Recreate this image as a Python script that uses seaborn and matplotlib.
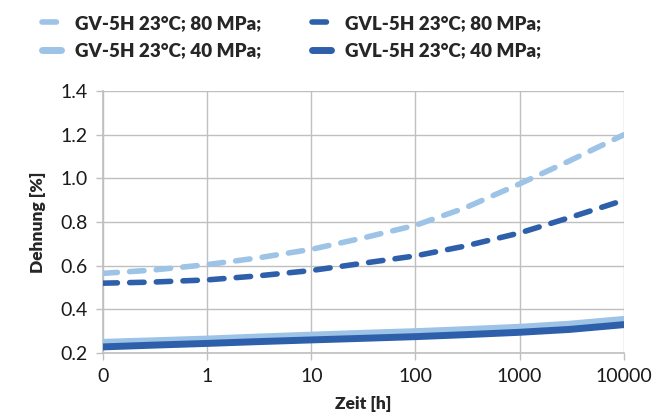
import numpy as np
import pandas as pd
import matplotlib
matplotlib.use("Agg")
import matplotlib.pyplot as plt
import seaborn as sns

# ---- data ----
zeit_h = [0, 0.3, 1, 3, 10, 30, 100, 300, 1000, 3000, 10000]
gv_80 = [0.565, 0.580, 0.605, 0.635, 0.675, 0.725, 0.785, 0.865, 0.975, 1.080, 1.200]
gvl_80 = [0.520, 0.525, 0.535, 0.553, 0.578, 0.610, 0.645, 0.690, 0.750, 0.820, 0.900]
gv_40 = [0.249, 0.256, 0.264, 0.273, 0.282, 0.290, 0.298, 0.307, 0.318, 0.332, 0.354]
gvl_40 = [0.228, 0.236, 0.244, 0.252, 0.260, 0.267, 0.275, 0.284, 0.295, 0.308, 0.330]
series_names = ["GV-5H 23°C; 80 MPa;", "GVL-5H 23°C; 80 MPa;",
                "GV-5H 23°C; 40 MPa;", "GVL-5H 23°C; 40 MPa;"]
x_ticks = [0, 1, 10, 100, 1000, 10000]
x_ticklabels = ["0", "1", "10", "100", "1000", "10000"]
y_ticks = [0.2, 0.4, 0.6, 0.8, 1.0, 1.2, 1.4]

light = "#9DC3E6"
dark = "#2E5FAA"

df = pd.concat([
    pd.DataFrame({"Zeit": zeit_h, "Dehnung": v, "Serie": n})
    for v, n in zip([gv_80, gvl_80, gv_40, gvl_40], series_names)
])

sns.set_theme(style="white")
plt.rcParams['font.family'] = ['Lato', 'DejaVu Sans']

fig = plt.figure(figsize=(6.7, 4.16), dpi=100)
ax = fig.add_axes([0.1537, 0.1514, 0.931 - 0.1537, 0.781 - 0.1514])

def fwd(t):
    t = np.asarray(t, dtype=float)
    return np.log10(np.maximum(t, 0.1)) + 1

def inv(p):
    return 10 ** (np.asarray(p, dtype=float) - 1)

ax.set_xscale('function', functions=(fwd, inv))

dash = (0, (2.6, 2.2))
styles = {
    series_names[0]: dict(color=light, ls=dash, lw=4),
    series_names[1]: dict(color=dark, ls=dash, lw=4),
    series_names[2]: dict(color=light, ls="-", lw=5),
    series_names[3]: dict(color=dark, ls="-", lw=5),
}
for name in series_names:
    st = styles[name]
    sns.lineplot(data=df[df["Serie"] == name], x="Zeit", y="Dehnung", ax=ax,
                 color=st["color"], linestyle=st["ls"], linewidth=st["lw"],
                 label=name, zorder=3, dash_capstyle="round", solid_capstyle="round")

ax.set_xlim(0, 10000)
ax.set_ylim(0.2, 1.4)
ax.set_xticks(x_ticks)
ax.set_xticklabels(x_ticklabels)
ax.set_yticks(y_ticks)
ax.set_yticklabels([f"{v:.1f}" for v in y_ticks])
ax.xaxis.set_minor_locator(matplotlib.ticker.NullLocator())

grid_c = "#BFBFBF"
ax.grid(True, axis="both", color=grid_c, lw=1)
for s in ["top", "right"]:
    ax.spines[s].set_visible(False)
for s in ["left", "bottom"]:
    ax.spines[s].set_color(grid_c)
    ax.spines[s].set_linewidth(1.2)
ax.tick_params(axis="both", which="major", length=5, width=1, color=grid_c,
               labelsize=14, labelcolor="#1a1a1a", pad=6, bottom=True, left=True)
ax.set_xlabel("Zeit [h]", fontsize=12.5, fontweight="heavy", labelpad=8)
ax.set_ylabel("Dehnung [%]", fontsize=12.5, fontweight="heavy", labelpad=10)

h, l = ax.get_legend_handles_labels()
if ax.get_legend() is not None:
    ax.get_legend().remove()
order = [0, 2, 1, 3]
leg = fig.legend([h[i] for i in order], [l[i] for i in order], ncol=2,
                 loc="upper left", bbox_to_anchor=(0.038, 1.005),
                 frameon=False, prop=dict(size=13.5, weight="heavy"),
                 handlelength=1.0, columnspacing=2.7, handletextpad=0.75,
                 labelspacing=0.55)

fig.savefig("out.png", dpi=100)
